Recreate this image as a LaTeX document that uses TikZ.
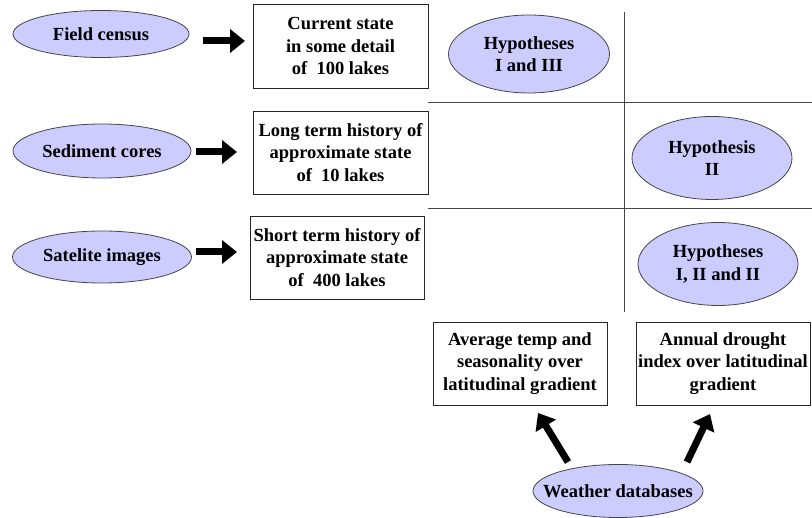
\documentclass[tikz,border=0pt]{standalone}
\usepackage{fontspec}
\setmainfont{Liberation Serif}
\usetikzlibrary{shapes.geometric,arrows.meta}
\definecolor{lav}{RGB}{204,204,255}
\definecolor{edge}{RGB}{70,70,70}
\begin{document}
\begin{tikzpicture}[x=1pt,y=-1pt,
  font=\bfseries\fontsize{18.5}{22.5}\selectfont,
  oval/.style={ellipse, draw=edge, line width=0.8pt, fill=lav, inner sep=0pt, align=center},
  databox/.style={rectangle, draw=black!85, line width=0.9pt, inner sep=0pt, align=center},
  barrow/.style={line width=7pt, -{Triangle[length=15pt,width=23pt]}},
  divider/.style={draw=edge, line width=0.9pt}]
\useasboundingbox[fill=white] (0,0) rectangle (812,518);

% left ellipses
\node[oval, minimum width=176pt, minimum height=47pt] (fc) at (101,34) {Field census};
\node[oval, minimum width=178pt, minimum height=54pt] (sc) at (102,151) {Sediment cores};
\node[oval, minimum width=179pt, minimum height=52pt] (si) at (102,257) {Satelite images};

% boxes
\node[databox, minimum width=175pt, minimum height=84pt] (b1) at (340.5,46) {Current state\\in some detail\\of\ \ 100 lakes};
\node[databox, minimum width=175pt, minimum height=83pt] (b2) at (340.5,152.5) {Long term history of\\approximate state\\of\ \ 10 lakes};
\node[databox, minimum width=174pt, minimum height=83pt] (b3) at (337,257.5) {Short term history of\\approximate state\\of\ \ 400 lakes};
\node[databox, minimum width=174pt, minimum height=83pt] (b4) at (520,363.5) {Average temp and\\seasonality over\\latitudinal gradient};
\node[databox, minimum width=174pt, minimum height=83pt] (b5) at (723,363.5) {Annual drought\\index over latitudinal\\gradient};

% hypotheses
\node[oval, minimum width=161pt, minimum height=78pt] (h1) at (529,54) {Hypotheses\\I and III};
\node[oval, minimum width=160pt, minimum height=83pt] (h2) at (712,158) {Hypothesis\\II};
\node[oval, minimum width=160pt, minimum height=83pt] (h3) at (718,264) {Hypotheses\\I, II and II};

% weather
\node[oval, inner xsep=-18pt, inner ysep=0pt, minimum width=170pt, minimum height=53pt] (wd) at (618,491) {Weather databases};

% grid lines
\coordinate (g1a) at (428,102); \coordinate (g1b) at (812,102);
\coordinate (g2a) at (428,208); \coordinate (g2b) at (812,208);
\coordinate (gva) at (624,12);  \coordinate (gvb) at (624,312);
\draw[divider] (g1a) -- (g1b);
\draw[divider] (g2a) -- (g2b);
\draw[divider] (gva) -- (gvb);

% arrows
\coordinate (a1s) at (203,41); \coordinate (a1e) at (245,41);
\coordinate (a2s) at (196,152); \coordinate (a2e) at (237,152);
\coordinate (a3s) at (196,252); \coordinate (a3e) at (237,252);
\coordinate (a4s) at (568,462); \coordinate (a4e) at (538,413);
\coordinate (a5s) at (687,462); \coordinate (a5e) at (710,414);
\draw[barrow] (a1s) -- (a1e);
\draw[barrow] (a2s) -- (a2e);
\draw[barrow] (a3s) -- (a3e);
\draw[barrow] (a4s) -- (a4e);
\draw[barrow] (a5s) -- (a5e);
\end{tikzpicture}
\end{document}
